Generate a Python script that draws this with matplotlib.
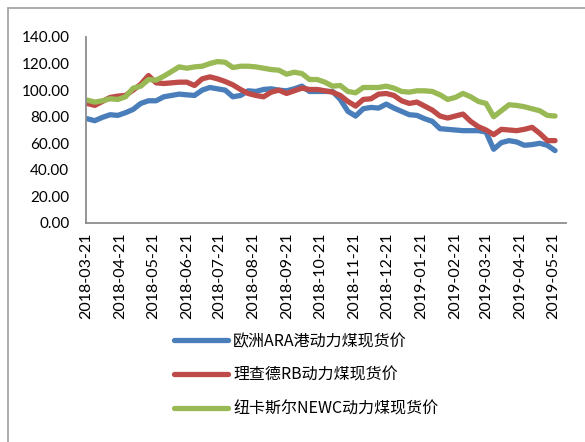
import matplotlib
matplotlib.use("Agg")
import matplotlib.pyplot as plt
import matplotlib.dates as mdates
from matplotlib.patches import Rectangle
import pandas as pd

plt.rcParams['font.family'] = ['Lato', 'Noto Sans CJK SC', 'DejaVu Sans']

# weekly observation dates
dates = pd.date_range(start="2018-03-22", periods=62, freq="7D")

ara = [78.5, 77, 79.5, 81.5, 81, 83, 85.5, 90, 92, 92,
       95, 96, 97, 96.5, 96, 100, 102, 101, 100, 95,
       96, 99.5, 99, 100.5, 101, 100, 99.5, 101, 103, 99,
       99, 99, 99, 93, 84, 80.5, 86, 87, 86.5, 89.5,
       86.5, 84, 81.5, 81, 78.5, 76.5, 71, 70.5, 70, 69.5,
       69.5, 69.5, 68.5, 55.5, 60.5, 62, 61, 58.5, 59, 60,
       58.5, 54.5]

rb = [90, 88.5, 91.5, 94.5, 95.5, 96, 100, 104.5, 111, 105.5,
      105, 105.5, 106, 106, 103.5, 108.5, 110, 108.5, 106.5, 104,
      100.5, 97.5, 96, 95, 98.5, 100, 97.5, 99.5, 101.5, 100.5,
      100.5, 99.5, 98.5, 96, 91.5, 88, 93, 93.5, 97, 97.5,
      96, 92, 90, 91, 88, 85, 80.5, 79, 80.5, 82,
      76.5, 72.5, 70, 66.5, 70.5, 70, 69.5, 70.5, 72, 67.5,
      62, 62]

newc = [92.5, 91, 92, 93.5, 93, 95, 101.5, 103, 108, 107.5,
        110.5, 114, 117.5, 116.5, 117.5, 118, 120, 121.5, 121, 117,
        118, 118, 117.5, 116.5, 115.5, 115, 112, 113.5, 112.5, 108,
        108, 106, 103, 103.5, 99, 98, 102, 102, 102, 103,
        101.5, 99, 98.5, 99.5, 99.5, 99, 96.5, 93, 94.5, 97.5,
        95, 91.5, 90, 80, 84.5, 89, 88.5, 87.5, 86, 84.5,
        81, 80.5]

labels = ["欧洲ARA港动力煤现货价", "理查德RB动力煤现货价", "纽卡斯尔NEWC动力煤现货价"]
colors = ["#4A7EBB", "#BE4B48", "#98B954"]

W, H = 585, 442
fig = plt.figure(figsize=(W / 100, H / 100), dpi=100)
ax = fig.add_axes([86 / W, 1 - 223 / H, (566 - 86) / W, (223 - 37) / H])

for vals, lab, col in zip([ara, rb, newc], labels, colors):
    ax.plot(dates, vals, color=col, lw=3.8, label=lab,
            solid_capstyle='round', solid_joinstyle='round')

ax.set_ylim(0, 140)
ax.set_yticks(range(0, 141, 20))
ax.set_yticklabels([f"{v:.2f}" for v in range(0, 141, 20)])
ax.set_xlim(pd.Timestamp("2018-03-21"), pd.Timestamp("2019-06-02"))
ticks = pd.date_range(start="2018-03-01", end="2019-05-01", freq="MS") + pd.Timedelta(days=20)
ax.set_xticks(ticks)
ax.xaxis.set_major_formatter(mdates.DateFormatter("%Y-%m-%d"))
ax.tick_params(axis='x', length=0, pad=7, labelsize=11.5, labelrotation=90, colors='#000000')
ax.tick_params(axis='y', length=0, pad=12, labelsize=11)
for s in ['top', 'right']:
    ax.spines[s].set_visible(False)
for s in ['left', 'bottom']:
    ax.spines[s].set_color('#8C8C8C')
    ax.spines[s].set_linewidth(1.3)

leg = fig.legend(loc='upper left', bbox_to_anchor=(174 / W, 1 - 333 / H),
                 frameon=False, prop={'family': ['Noto Sans CJK SC'], 'size': 11.5},
                 handlelength=3.4, handletextpad=0.3, labelspacing=1.05,
                 borderpad=0, borderaxespad=0)

fig.patches.append(Rectangle((8 / W, -0.1), 1.2, 1 - 8 / H + 0.1,
                             transform=fig.transFigure, fill=False,
                             edgecolor='#A6A6A6', lw=1.3))

fig.savefig("out.png", dpi=100)
